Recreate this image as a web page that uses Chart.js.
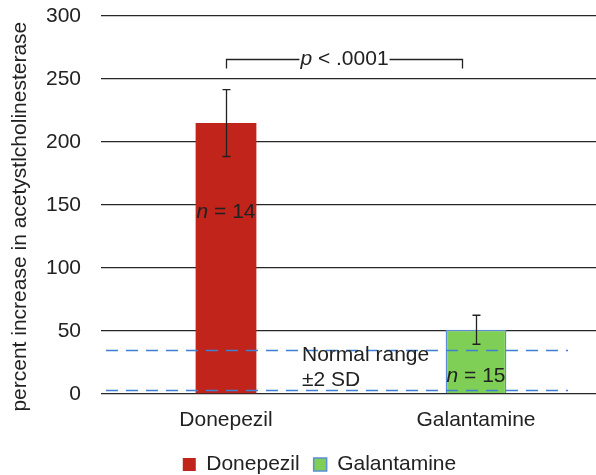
<!DOCTYPE html>
<html>
<head>
<meta charset="utf-8">
<script src="https://cdn.jsdelivr.net/npm/chart.js@4.4.0/dist/chart.umd.min.js"></script>
<style>
  html, body { margin: 0; padding: 0; background: #fff; overflow: hidden; }
  #wrap { width: 596px; height: 475px; overflow: hidden; }
</style>
</head>
<body>
<div id="wrap"><canvas id="chart" width="601" height="475"></canvas></div>
<script>
// data
var categories = ['Donepezil', 'Galantamine'];
var meanIncrease = [215, 51];
var errorSize = [26.5, 11.5];
var sampleSize = [14, 15];
var normalRange = [3, 35];
var yTicks = [0, 50, 100, 150, 200, 250, 300];
var pValueText = '< .0001';

var barColors = ['#c0241b', '#7fcf56'];
var barBorders = ['#c0241b', '#5a8fd6'];
var FONT = '"Liberation Sans", Arial, Helvetica, sans-serif';
var FS = 21;
var INK = '#222';
var PLOT_BOTTOM = 394;

// draws error bars, normal range lines, n labels and the p-value bracket
var overlay = {
  id: 'overlay',
  afterDatasetsDraw: function(chart) {
    var ctx = chart.ctx;
    var x = chart.scales.x, y = chart.scales.y, area = chart.chartArea;
    var plain = FS + 'px ' + FONT, italic = 'italic ' + FS + 'px ' + FONT;
    ctx.save();

    // normal range +-2 SD
    ctx.strokeStyle = '#3f7fd4';
    ctx.lineWidth = 1.4;
    ctx.setLineDash([12, 8]);
    normalRange.forEach(function(v) {
      var py = Math.round(y.getPixelForValue(v)) + 0.5;
      ctx.beginPath();
      ctx.moveTo(area.left + 5, py);
      ctx.lineTo(area.right - 33, py);
      ctx.stroke();
    });
    ctx.setLineDash([]);

    // error bars
    ctx.strokeStyle = INK;
    ctx.lineWidth = 1.3;
    meanIncrease.forEach(function(v, i) {
      var px = Math.round(x.getPixelForValue(i)) + 0.5;
      var top = y.getPixelForValue(v + errorSize[i]);
      var bot = y.getPixelForValue(v - errorSize[i]);
      ctx.beginPath();
      ctx.moveTo(px, top); ctx.lineTo(px, bot);
      ctx.moveTo(px - 4, top); ctx.lineTo(px + 4, top);
      ctx.moveTo(px - 4, bot); ctx.lineTo(px + 4, bot);
      ctx.stroke();
    });

    ctx.fillStyle = INK;
    ctx.textBaseline = 'middle';
    ctx.textAlign = 'left';

    // "n = .." labels with italic n
    var nLabelY = [144, 14];
    sampleSize.forEach(function(n, i) {
      var px = x.getPixelForValue(i);
      var py = y.getPixelForValue(nLabelY[i]);
      var rest = ' = ' + n;
      ctx.font = italic;
      var w1 = ctx.measureText('n').width;
      ctx.font = plain;
      var w2 = ctx.measureText(rest).width;
      var sx = px - (w1 + w2) / 2;
      ctx.font = italic;
      ctx.fillText('n', sx, py);
      ctx.font = plain;
      ctx.fillText(rest, sx + w1, py);
    });

    // normal range caption
    ctx.font = plain;
    ctx.fillText('Normal range', area.left + 201, y.getPixelForValue(31));
    ctx.fillText('\u00b12 SD', area.left + 201, y.getPixelForValue(11));

    // p-value bracket
    var bx1 = Math.round(x.getPixelForValue(0)) + 0.5;
    var bx2 = Math.round(x.getPixelForValue(1)) - 13.5;
    var by = Math.round(y.getPixelForValue(266)) + 0.5;
    var mid = (bx1 + bx2) / 2;
    ctx.font = italic;
    var pw = ctx.measureText('p').width;
    ctx.font = plain;
    var tw = pw + ctx.measureText(' ' + pValueText).width;
    var tx = mid - tw / 2;
    ctx.lineWidth = 1.3;
    ctx.beginPath();
    ctx.moveTo(bx1, by + 9); ctx.lineTo(bx1, by); ctx.lineTo(tx - 1, by);
    ctx.moveTo(tx + tw + 1, by); ctx.lineTo(bx2, by); ctx.lineTo(bx2, by + 9);
    ctx.stroke();
    ctx.font = italic;
    ctx.fillText('p', tx, by);
    ctx.font = plain;
    ctx.fillText(' ' + pValueText, tx + pw, by);

    ctx.restore();
  }
};

// move the legend row right and down
var legendShift = {
  id: 'legendShift',
  afterLayout: function(chart) {
    chart.legend.left += 19;
    chart.legend.right += 19;
    chart.legend.top += 10;
    chart.legend.bottom += 10;
  }
};

var chart = new Chart(document.getElementById('chart'), {
  type: 'bar',
  data: {
    labels: categories,
    datasets: [{
      label: 'percent increase',
      data: meanIncrease,
      backgroundColor: barColors,
      borderColor: barBorders,
      borderWidth: [0, 1.5],
      barPercentage: 0.243,
      categoryPercentage: 1
    }]
  },
  options: {
    responsive: false,
    animation: false,
    layout: { padding: { top: 16, bottom: 0, left: 0, right: 0 } },
    scales: {
      x: {
        grid: { display: false },
        border: { display: false },
        afterFit: function(scale) {
          scale.height = scale.chart.height - scale.chart.legend.height - PLOT_BOTTOM;
        },
        ticks: { color: INK, padding: 6, font: { family: FONT, size: FS } }
      },
      y: {
        min: 0,
        max: 300,
        afterBuildTicks: function(scale) {
          scale.ticks = yTicks.map(function(v) { return { value: v }; });
        },
        afterFit: function(scale) { scale.width = 101; },
        grid: { color: '#262626', lineWidth: 1.3, tickLength: 20, tickColor: 'rgba(0,0,0,0)' },
        border: { display: false },
        ticks: { color: INK, padding: 0, font: { family: FONT, size: FS } },
        title: {
          display: true,
          // trailing spaces nudge the rotated title a little lower
          text: 'percent increase in acetystlcholinesterase    ',
          color: INK,
          font: { family: FONT, size: 21 },
          padding: { top: 8, bottom: 0 }
        }
      }
    },
    plugins: {
      tooltip: { enabled: false },
      legend: {
        position: 'bottom',
        labels: {
          boxWidth: 13,
          boxHeight: 13,
          padding: 14,
          color: INK,
          font: { family: FONT, size: FS },
          generateLabels: function() {
            return categories.map(function(c, i) {
              return {
                text: c,
                fillStyle: barColors[i],
                strokeStyle: barBorders[i],
                lineWidth: i ? 1.5 : 0,
                fontColor: INK,
                hidden: false,
                index: i
              };
            });
          }
        }
      }
    }
  },
  plugins: [overlay, legendShift]
});
</script>
</body>
</html>
